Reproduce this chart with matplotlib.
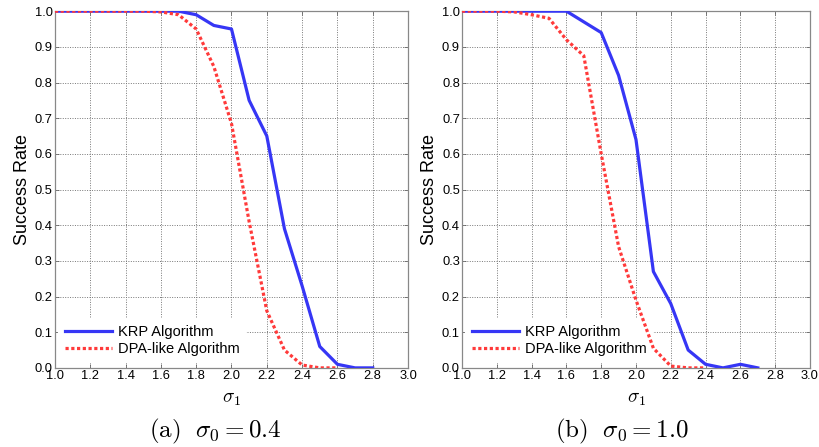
import matplotlib

matplotlib.use("Agg")
import matplotlib.pyplot as plt

plt.rcParams["font.family"] = ["Liberation Sans", "DejaVu Sans"]
plt.rcParams["mathtext.fontset"] = "cm"

# sigma_1 values and success rates
x_a_krp = [1.0, 1.1, 1.2, 1.3, 1.4, 1.5, 1.6, 1.7, 1.8, 1.9, 2.0, 2.1, 2.2, 2.3, 2.4, 2.5, 2.6, 2.7, 2.8]
y_a_krp = [1.0, 1.0, 1.0, 1.0, 1.0, 1.0, 1.0, 1.0, 0.99, 0.96, 0.95, 0.75, 0.65, 0.39, 0.23, 0.06, 0.01, 0.0, 0.0]
x_a_dpa = [1.0, 1.1, 1.2, 1.3, 1.4, 1.5, 1.6, 1.7, 1.8, 1.9, 2.0, 2.1, 2.2, 2.3, 2.4, 2.5, 2.6]
y_a_dpa = [1.0, 1.0, 1.0, 1.0, 1.0, 1.0, 0.998, 0.99, 0.95, 0.845, 0.685, 0.41, 0.16, 0.05, 0.008, 0.0, 0.0]

x_b_krp = [1.0, 1.1, 1.2, 1.3, 1.4, 1.5, 1.6, 1.7, 1.8, 1.9, 2.0, 2.1, 2.2, 2.3, 2.4, 2.5, 2.6, 2.7]
y_b_krp = [1.0, 1.0, 1.0, 1.0, 1.0, 1.0, 1.0, 0.97, 0.94, 0.82, 0.64, 0.27, 0.18, 0.05, 0.01, 0.0, 0.01, 0.0]
x_b_dpa = [1.0, 1.1, 1.2, 1.3, 1.4, 1.5, 1.6, 1.7, 1.8, 1.9, 2.0, 2.1, 2.2, 2.3, 2.4]
y_b_dpa = [1.0, 1.0, 1.0, 0.998, 0.99, 0.98, 0.92, 0.875, 0.60, 0.34, 0.19, 0.055, 0.005, 0.0, 0.0]

captions = [r"$\mathrm{(a)}\ \ \sigma_0 = 0.4$", r"$\mathrm{(b)}\ \ \sigma_0 = 1.0$"]
caption_x = [0.263, 0.758]
xticks = [1.0, 1.2, 1.4, 1.6, 1.8, 2.0, 2.2, 2.4, 2.6, 2.8, 3.0]
yticks = [0.0, 0.1, 0.2, 0.3, 0.4, 0.5, 0.6, 0.7, 0.8, 0.9, 1.0]

BLUE = "#3636f5"
RED = "#ff3a3a"

fig = plt.figure(figsize=(8.2, 4.47), dpi=100)
axes = [
    fig.add_axes([0.067, 0.177, 0.4306, 0.798]),
    fig.add_axes([0.5634, 0.177, 0.4244, 0.798]),
]
panels = [
    (x_a_krp, y_a_krp, x_a_dpa, y_a_dpa),
    (x_b_krp, y_b_krp, x_b_dpa, y_b_dpa),
]

for ax, (xk, yk, xd, yd), cap, cx in zip(axes, panels, captions, caption_x):
    ax.plot(xk, yk, color=BLUE, linewidth=2.3, label="KRP Algorithm", zorder=3)
    ax.plot(xd, yd, color=RED, linewidth=2.3, linestyle=(0, (1.0, 0.8)),
            label="DPA-like Algorithm", zorder=3)
    ax.set_xlim(1.0, 3.0)
    ax.set_ylim(0.0, 1.0)
    ax.set_xticks(xticks)
    ax.set_yticks(yticks)
    ax.set_xticklabels([f"{v:.1f}" for v in xticks])
    ax.set_yticklabels([f"{v:.1f}" for v in yticks])
    ax.tick_params(direction="in", length=3, width=0.6, labelsize=9.3, pad=1.5,
                   top=True, right=True, color="#666666")
    ax.grid(True, color="#777777", linestyle=(0, (1, 1.5)), linewidth=0.7)
    for s in ax.spines.values():
        s.set_color("#888888")
        s.set_linewidth(0.9)
    ax.set_ylabel("Success Rate", fontsize=13, labelpad=3)
    ax.set_xlabel(r"$\sigma_1$", fontsize=14, labelpad=6)
    leg = ax.legend(loc="lower left", bbox_to_anchor=(0.01, 0.015), fontsize=10.5,
                    frameon=True, fancybox=False, handlelength=3.2,
                    borderpad=0.45, labelspacing=0.2, handletextpad=0.4,
                    borderaxespad=0.0)
    leg.get_frame().set_edgecolor("none")
    leg.get_frame().set_facecolor("white")
    leg.get_frame().set_alpha(1.0)
    # legend box sits over the grid but under the curves
    leg.set_zorder(2.5)
    fig.text(cx, 0.035, cap, ha="center", va="center", fontsize=18)

fig.savefig("out.png", dpi=100)
